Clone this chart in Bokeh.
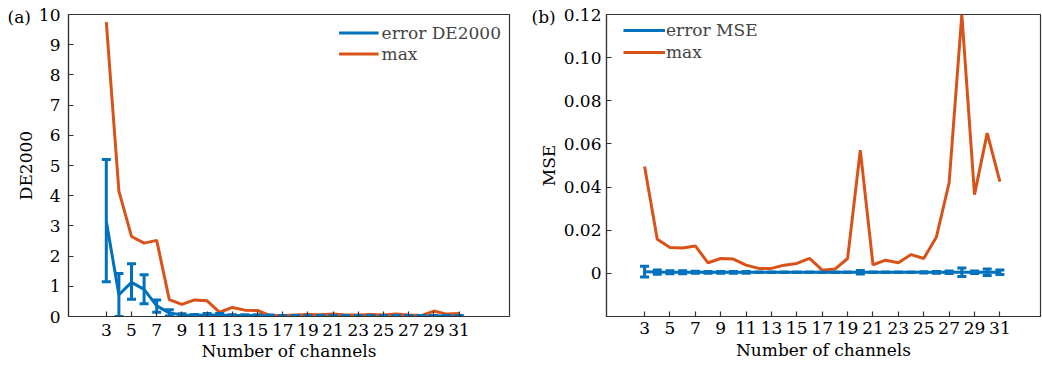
from bokeh.plotting import figure
from bokeh.models import (ColumnDataSource, Whisker, TeeHead, Range1d, FixedTicker,
                          Legend, LegendItem, Title, CustomJSTickFormatter)
from bokeh.layouts import row
from bokeh.embed import file_html
from bokeh.resources import INLINE

channels = list(range(3, 32))

# Panel (a): DE2000
de_mean = [3.15, 0.72, 1.13, 0.90, 0.35, 0.12, 0.05, 0.04, 0.05, 0.05, 0.03, 0.03, 0.03, 0.03,
           0.02, 0.02, 0.02, 0.02, 0.02, 0.02, 0.02, 0.02, 0.02, 0.02, 0.02, 0.02, 0.02, 0.02, 0.02]
de_err_lo = [2.00, 0.72, 0.56, 0.48, 0.21, 0.10, 0.04, 0.03, 0.04, 0.04, 0.02, 0.02, 0.02, 0.02,
             0.01, 0.01, 0.01, 0.01, 0.01, 0.01, 0.01, 0.01, 0.01, 0.01, 0.01, 0.01, 0.01, 0.01, 0.01]
de_err_hi = [2.05, 0.70, 0.62, 0.48, 0.20, 0.10, 0.04, 0.03, 0.05, 0.05, 0.03, 0.03, 0.03, 0.02,
             0.01, 0.01, 0.01, 0.01, 0.01, 0.01, 0.01, 0.01, 0.01, 0.01, 0.01, 0.01, 0.01, 0.01, 0.01]
de_max = [9.75, 4.15, 2.65, 2.43, 2.52, 0.56, 0.40, 0.55, 0.52, 0.14, 0.30, 0.21, 0.20, 0.03,
          0.03, 0.05, 0.07, 0.06, 0.08, 0.05, 0.05, 0.07, 0.05, 0.08, 0.05, 0.03, 0.18, 0.08, 0.10]

# Panel (b): MSE
mse_mean = [0.0008, 0.0006, 0.0005, 0.0005, 0.0005, 0.0005, 0.0005, 0.0005, 0.0005, 0.0005,
            0.0005, 0.0005, 0.0005, 0.0005, 0.0005, 0.0005, 0.0005, 0.0005, 0.0005, 0.0005,
            0.0005, 0.0005, 0.0005, 0.0005, 0.0005, 0.0005, 0.0005, 0.0005, 0.0005]
mse_err = [0.0025, 0.0010, 0.0007, 0.0007, 0.0005, 0.0004, 0.0004, 0.0004, 0.0004, 0.0,
           0.0, 0.0, 0.0, 0.0, 0.0, 0.0, 0.0, 0.0008, 0.0, 0.0,
           0.0, 0.0, 0.0003, 0.0004, 0.0006, 0.0020, 0.0006, 0.0015, 0.0010]
mse_max = [0.0495, 0.0158, 0.0120, 0.0118, 0.0127, 0.0049, 0.0069, 0.0066, 0.0038, 0.0023,
           0.0023, 0.0038, 0.0046, 0.0069, 0.0015, 0.0020, 0.0069, 0.0571, 0.0040, 0.0061,
           0.0049, 0.0087, 0.0069, 0.0169, 0.0420, 0.1200, 0.0365, 0.0650, 0.0425]

x_ticks = list(range(3, 32, 2))

BLUE = "#0072BD"
ORANGE = "#D95319"
FONT = "DejaVu Serif"
FS = "17px"


def style(p, ystand, xstand, xlabstand):
    p.outline_line_color = "#333333"
    p.outline_line_width = 1.2
    p.xgrid.visible = False
    p.ygrid.visible = False
    for ax in (p.xaxis[0], p.yaxis[0]):
        ax.axis_line_color = "#333333"
        ax.axis_line_width = 1.2
        ax.major_tick_in = 5
        ax.major_tick_out = 0
        ax.major_tick_line_color = "#333333"
        ax.major_tick_line_width = 1.2
        ax.minor_tick_line_color = None
        ax.major_label_text_font = FONT
        ax.major_label_text_font_size = FS
        ax.major_label_text_color = "black"
        ax.axis_label_text_font = FONT
        ax.axis_label_text_font_size = FS
        ax.axis_label_text_font_style = "normal"
        ax.axis_label_text_color = "black"
    p.xaxis[0].ticker = FixedTicker(ticks=x_ticks)
    p.xaxis[0].axis_label = "Number of channels"
    p.xaxis[0].major_label_standoff = xstand
    p.xaxis[0].axis_label_standoff = xlabstand
    p.yaxis[0].major_label_standoff = ystand


def panel_tag(text, offset):
    return Title(text=text, align="left", vertical_align="bottom", offset=offset, standoff=-24,
                 text_font=FONT, text_font_size=FS, text_font_style="normal",
                 text_color="black")


# ---------- Panel (a) ----------
p1 = figure(width=520, height=368, output_backend="svg", toolbar_location=None,
            x_range=Range1d(0, 35), y_range=Range1d(0, 10),
            min_border_left=68, min_border_right=11, min_border_top=13, min_border_bottom=52)
style(p1, 8, 7, 2)
p1.yaxis[0].ticker = FixedTicker(ticks=list(range(0, 11)))
p1.yaxis[0].axis_label = "DE2000"
p1.yaxis[0].axis_label_standoff = 0

src1 = ColumnDataSource(dict(x=channels, y=de_mean,
                             lo=[m - e for m, e in zip(de_mean, de_err_lo)],
                             hi=[m + e for m, e in zip(de_mean, de_err_hi)],
                             mx=de_max))
l1 = p1.line("x", "y", source=src1, line_color=BLUE, line_width=3)
w1 = Whisker(source=src1, base="x", lower="lo", upper="hi", line_color=BLUE, line_width=3,
             level="glyph",
             upper_head=TeeHead(size=9, line_color=BLUE, line_width=3),
             lower_head=TeeHead(size=9, line_color=BLUE, line_width=3))
p1.add_layout(w1)
m1 = p1.scatter(x=[], y=[], marker="square", size=7, color=BLUE)
o1 = p1.line("x", "mx", source=src1, line_color=ORANGE, line_width=3)

leg1 = Legend(items=[LegendItem(label="error DE2000", renderers=[l1, m1]),
                     LegendItem(label="max", renderers=[o1])],
              location="top_right", margin=0, padding=8, spacing=0,
              glyph_width=40, glyph_height=21, label_height=21, label_standoff=3,
              label_text_font=FONT, label_text_font_size=FS,
              border_line_alpha=0, background_fill_alpha=0)
p1.add_layout(leg1)
p1.add_layout(panel_tag("(a)", -61), "above")

# ---------- Panel (b) ----------
p2 = figure(width=522, height=368, output_backend="svg", toolbar_location=None,
            x_range=Range1d(0, 34.2), y_range=Range1d(-0.02, 0.12),
            min_border_left=86, min_border_right=2, min_border_top=14, min_border_bottom=50)
style(p2, 5, 5, 3)
p2.yaxis[0].ticker = FixedTicker(ticks=[0, 0.02, 0.04, 0.06, 0.08, 0.10, 0.12])
p2.yaxis[0].formatter = CustomJSTickFormatter(code="return Math.abs(tick) < 1e-9 ? '0' : tick.toFixed(2);")
p2.yaxis[0].axis_label = "MSE"
p2.yaxis[0].axis_label_standoff = 2

src2 = ColumnDataSource(dict(x=channels, y=mse_mean,
                             lo=[m - e for m, e in zip(mse_mean, mse_err)],
                             hi=[m + e for m, e in zip(mse_mean, mse_err)],
                             mx=mse_max))
l2 = p2.line("x", "y", source=src2, line_color=BLUE, line_width=3)
w2 = Whisker(source=src2, base="x", lower="lo", upper="hi", line_color=BLUE, line_width=3,
             level="glyph",
             upper_head=TeeHead(size=9, line_color=BLUE, line_width=3),
             lower_head=TeeHead(size=9, line_color=BLUE, line_width=3))
p2.add_layout(w2)
m2 = p2.scatter(x=[], y=[], marker="square", size=7, color=BLUE)
o2 = p2.line("x", "mx", source=src2, line_color=ORANGE, line_width=3)

leg2 = Legend(items=[LegendItem(label="error MSE", renderers=[l2, m2]),
                     LegendItem(label="max", renderers=[o2])],
              location=(12, 248), margin=0, padding=5, spacing=0,
              glyph_width=42, glyph_height=22, label_height=22, label_standoff=1,
              label_text_font=FONT, label_text_font_size=FS,
              border_line_alpha=0, background_fill_alpha=0)
p2.add_layout(leg2)
p2.add_layout(panel_tag("(b)", -75), "above")

layout = row(p1, p2)
open("out.html", "w").write(file_html(layout, INLINE))
